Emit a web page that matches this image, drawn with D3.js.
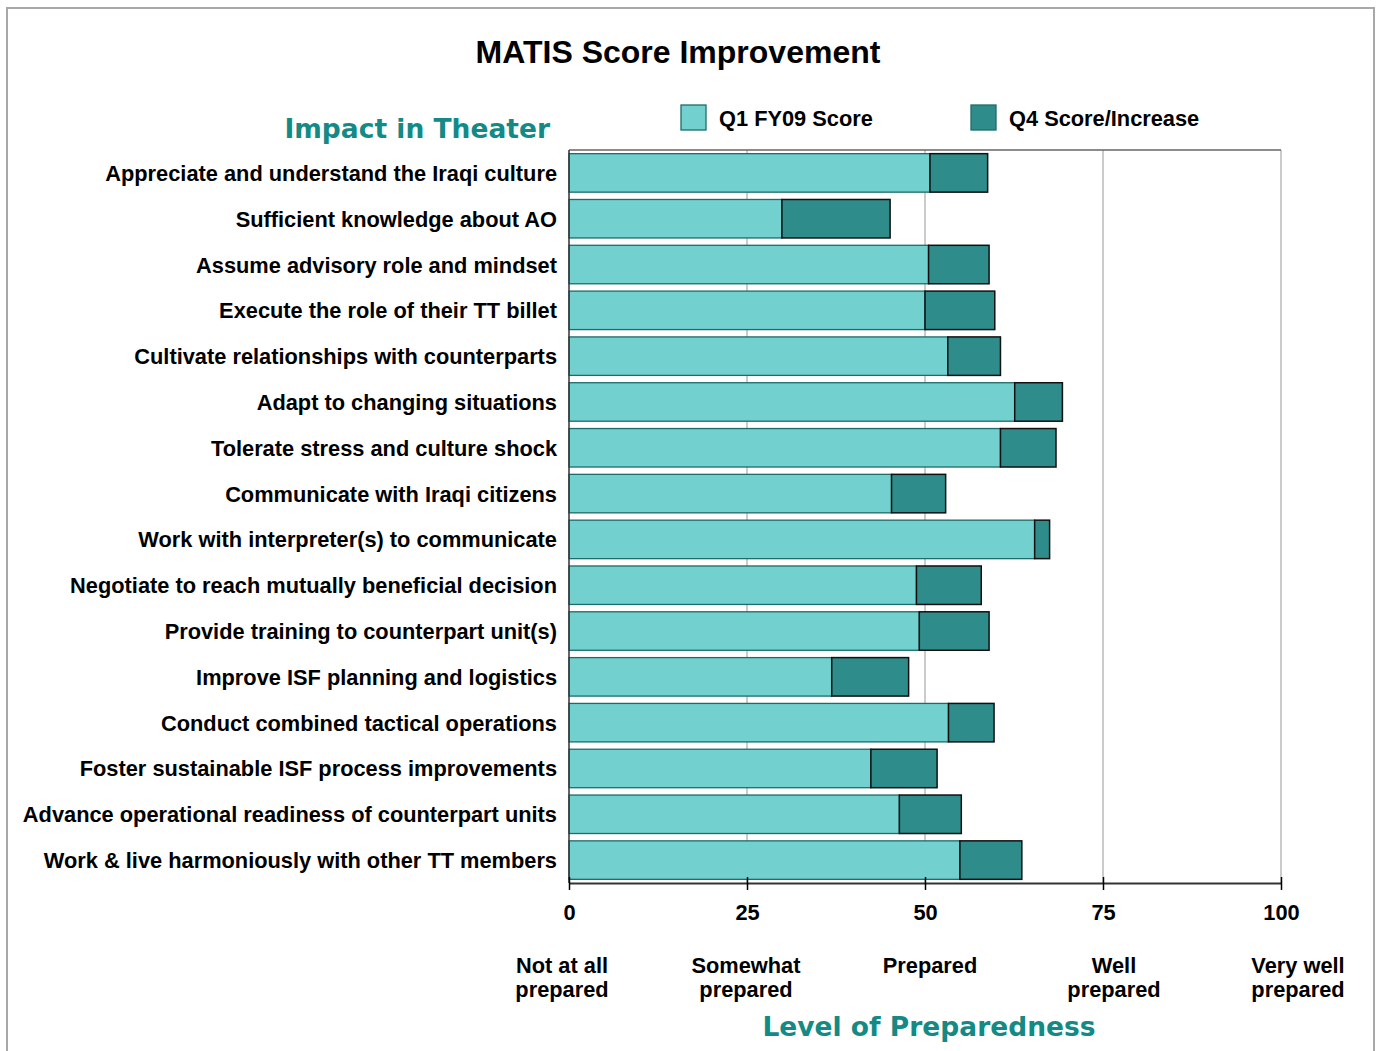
<!DOCTYPE html>
<html>
<head>
<meta charset="utf-8">
<script src="https://cdn.jsdelivr.net/npm/d3@7"></script>
<style>
  body { margin: 0; background: #fff; }
  svg { display: block; }
  text { font-family: 'Liberation Sans', Arial, sans-serif; font-weight: bold; fill: #000; }
  .teal-title { font-family: 'DejaVu Sans', Verdana, sans-serif; fill: #138a86; font-size: 26.5px; }
</style>
</head>
<body>
<svg id="chart" width="1378" height="1051"></svg>
<script>
const categories = [
  'Appreciate and understand the Iraqi culture',
  'Sufficient knowledge about AO',
  'Assume advisory role and mindset',
  'Execute the role of their TT billet',
  'Cultivate relationships with counterparts',
  'Adapt to changing situations',
  'Tolerate stress and culture shock',
  'Communicate with Iraqi citizens',
  'Work with interpreter(s) to communicate',
  'Negotiate to reach mutually beneficial decision',
  'Provide training to counterpart unit(s)',
  'Improve ISF planning and logistics',
  'Conduct combined tactical operations',
  'Foster sustainable ISF process improvements',
  'Advance operational readiness of counterpart units',
  'Work & live harmoniously with other TT members'
]
// Q1 FY09 score and the Q4 increase on top of it
const q1Score = [50.7, 29.9, 50.5, 50.0, 53.2, 62.6, 60.6, 45.3, 65.4, 48.8, 49.2, 36.9, 53.3, 42.4, 46.4, 54.9]
const q4Increase = [8.1, 15.2, 8.5, 9.8, 7.4, 6.7, 7.8, 7.6, 2.1, 9.1, 9.8, 10.8, 6.4, 9.3, 8.7, 8.7]
const tickValues = [0, 25, 50, 75, 100]
const levelLabels = [['Not at all', 'prepared'], ['Somewhat', 'prepared'], ['Prepared'], ['Well', 'prepared'], ['Very well', 'prepared']]
const seriesNames = ['Q1 FY09 Score', 'Q4 Score/Increase']

const colors = {q1: '#72d0cf', q4: '#2e8c8a'}
const svg = d3.select('#chart')

// outer frame
svg.append('rect')
  .attr('x', 7).attr('y', 8).attr('width', 1367).attr('height', 1100)
  .attr('fill', 'none').attr('stroke', '#a8a8a8').attr('stroke-width', 2)

const x = d3.scaleLinear().domain([0, 100]).range([569, 1281])
const y = d3.scaleBand().domain(categories).range([150, 883]).paddingInner(0.16).paddingOuter(0.08)
const levelX = d3.scaleLinear().domain([0, 100]).range([562, 1298])

// grid
svg.append('g')
  .selectAll('line')
  .data([25, 50, 75, 100])
  .enter().append('line')
  .attr('x1', d => x(d)).attr('x2', d => x(d))
  .attr('y1', 150).attr('y2', 883)
  .attr('stroke', '#a8a8a8').attr('stroke-width', 1.2)

svg.append('line')
  .attr('x1', x(0)).attr('x2', x(100)).attr('y1', 150).attr('y2', 150)
  .attr('stroke', '#666').attr('stroke-width', 1.5)

const rows = categories.map((c, i) => ({name: c, q1: q1Score[i], inc: q4Increase[i]}))

const bars = svg.append('g').attr('class', 'bars')
bars.selectAll('rect.q1')
  .data(rows)
  .enter().append('rect')
  .attr('class', 'q1')
  .attr('x', x(0))
  .attr('y', d => y(d.name))
  .attr('width', d => x(d.q1) - x(0))
  .attr('height', y.bandwidth())
  .attr('fill', colors.q1)
  .attr('stroke', '#1d6b6a').attr('stroke-width', 1.3)

bars.selectAll('rect.q4')
  .data(rows)
  .enter().append('rect')
  .attr('class', 'q4')
  .attr('x', d => x(d.q1))
  .attr('y', d => y(d.name))
  .attr('width', d => x(d.q1 + d.inc) - x(d.q1))
  .attr('height', y.bandwidth())
  .attr('fill', colors.q4)
  .attr('stroke', '#111').attr('stroke-width', 1.5)

// axes
svg.append('line')
  .attr('x1', x(0)).attr('x2', x(0)).attr('y1', 150).attr('y2', 883)
  .attr('stroke', '#333').attr('stroke-width', 1.5)

const xAxis = svg.append('g')
  .attr('transform', 'translate(0,883)')
  .call(d3.axisBottom(x).tickValues(tickValues).tickSize(7).tickSizeOuter(0).tickPadding(15))
xAxis.select('.domain').attr('stroke', '#333').attr('stroke-width', 2)
xAxis.selectAll('.tick line').attr('y1', -6).attr('stroke', '#000').attr('stroke-width', 1.5)
xAxis.selectAll('.tick text')
  .attr('font-size', '21.8px')
  .attr('font-family', "'Liberation Sans', Arial, sans-serif")
  .attr('font-weight', 'bold')
  .attr('fill', '#000')

// category labels
svg.append('g')
  .selectAll('text')
  .data(categories)
  .enter().append('text')
  .attr('x', 557)
  .attr('y', d => y(d) + y.bandwidth() / 2 + 8)
  .attr('text-anchor', 'end')
  .attr('font-size', '21.8px')
  .text(d => d)

// preparedness level labels
const lev = svg.append('g')
  .selectAll('text')
  .data(levelLabels)
  .enter().append('text')
  .attr('text-anchor', 'middle')
  .attr('font-size', '21.8px')
  .attr('transform', (d, i) => 'translate(' + levelX(tickValues[i]) + ',973)')
lev.selectAll('tspan')
  .data(d => d)
  .enter().append('tspan')
  .attr('x', 0)
  .attr('y', (d, i) => i * 24)
  .text(d => d)

// titles
svg.append('text')
  .attr('x', 678).attr('y', 63)
  .attr('text-anchor', 'middle')
  .attr('font-size', '32px')
  .text('MATIS Score Improvement')

svg.append('text')
  .attr('class', 'teal-title')
  .attr('x', 550).attr('y', 138)
  .attr('text-anchor', 'end')
  .text('Impact in Theater')

svg.append('text')
  .attr('class', 'teal-title')
  .attr('x', 929).attr('y', 1036)
  .attr('text-anchor', 'middle')
  .text('Level of Preparedness')

// legend
const legend = svg.append('g')
  .selectAll('g')
  .data(seriesNames)
  .enter().append('g')
  .attr('transform', (d, i) => 'translate(' + (681 + i * 290) + ',105)')
legend.append('rect')
  .attr('width', 25).attr('height', 25)
  .attr('fill', (d, i) => i ? colors.q4 : colors.q1)
  .attr('stroke', '#1d6b6a').attr('stroke-width', 1.3)
legend.append('text')
  .attr('x', 38).attr('y', 21)
  .attr('font-size', '21.8px')
  .text(d => d)
</script>
</body>
</html>
